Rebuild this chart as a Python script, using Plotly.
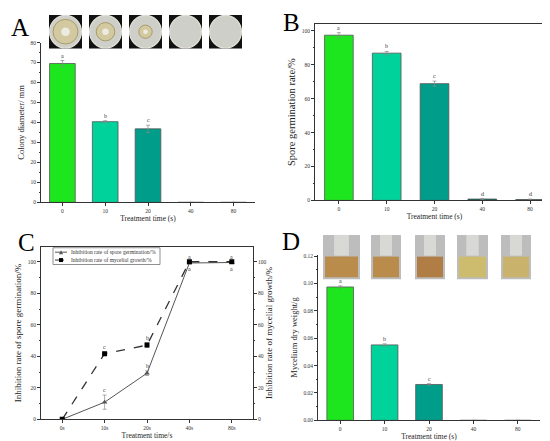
import plotly.graph_objects as go

# ---- data ----
times = ["0", "10", "20", "40", "80"]
times_s = ["0s", "10s", "20s", "40s", "80s"]

colony_diameter = [69.5, 40.4, 36.8, 0, 0]
colony_err = [1.5, 0.5, 1.8, 0, 0]
colony_letters = ["a", "b", "c", "", ""]

spore_germ = [97.5, 86.9, 68.9, 0.8, 0.5]
spore_err = [1.5, 1.0, 1.5, 0.3, 0.3]
spore_letters = ["a", "b", "c", "d", "d"]

inhib_spore = [0, 10.9, 29.3, 99.2, 99.5]
inhib_spore_err = [0, 4.5, 1.5, 0.3, 0.3]
inhib_spore_letters = ["", "c", "b", "a", "a"]
inhib_myc = [0, 41.7, 47.1, 100, 100]
inhib_myc_err = [0, 1.0, 1.5, 0, 0]
inhib_myc_letters = ["", "c", "b", "a", "a"]

dry_weight = [0.0974, 0.0551, 0.0262, 0, 0]
dry_err = [0.0008, 0.0008, 0.0006, 0, 0]
dry_letters = ["a", "b", "c", "", ""]

legend_names = ["Inhibition rate of spore germination/%", "Inhibition rate of mycelial growth/%"]

bar_colors = ["#1ee61e", "#00d29b", "#009e8a", "#006b5f", "#00544a"]
FONT = "Liberation Serif"
W, H = 550, 441


def px(x0, y0, x1, y1):
    return dict(x0=x0 / W, x1=x1 / W, y0=1 - y1 / H, y1=1 - y0 / H)


fig = go.Figure()

err_style = dict(type="data", color="#8a8a8a", thickness=0.7, width=2)
bar_line = dict(color="#555555", width=0.8)

fig.add_trace(go.Bar(x=times, y=colony_diameter, marker=dict(color=bar_colors, line=bar_line),
                     error_y=dict(array=colony_err, **err_style), width=0.6,
                     xaxis="x", yaxis="y"))
fig.add_trace(go.Bar(x=times, y=spore_germ, marker=dict(color=bar_colors, line=bar_line),
                     error_y=dict(array=spore_err, **err_style), width=0.6,
                     xaxis="x2", yaxis="y2"))
fig.add_trace(go.Scatter(x=times_s, y=inhib_spore, mode="lines+markers", name=legend_names[0],
                         line=dict(color="#555555", width=1),
                         marker=dict(symbol="triangle-up", size=5, color="#555555"),
                         error_y=dict(array=inhib_spore_err, **err_style),
                         xaxis="x3", yaxis="y3"))
fig.add_trace(go.Scatter(x=times_s, y=inhib_myc, mode="lines+markers", name=legend_names[1],
                         line=dict(color="#333333", width=1.3, dash="dash"),
                         marker=dict(symbol="square", size=5, color="black"),
                         error_y=dict(array=inhib_myc_err, **err_style),
                         xaxis="x3", yaxis="y5"))
fig.add_trace(go.Bar(x=times, y=dry_weight, marker=dict(color=bar_colors, line=bar_line),
                     error_y=dict(array=dry_err, **err_style), width=0.6,
                     xaxis="x4", yaxis="y4"))

tick_font = dict(family=FONT, size=5.5, color="#333333")
ax_common = dict(showline=True, linecolor="#333333", linewidth=0.8, ticks="outside",
                 ticklen=3, tickwidth=0.7, tickcolor="#333333", tickfont=tick_font,
                 showgrid=False, zeroline=False)
cat_ax = dict(ax_common, type="category", range=[-0.5, 4.5])
minor = dict(ticks="outside", ticklen=1.5, tickcolor="#333")


def ytitle(text, size, standoff=4):
    return dict(text=text, font=dict(family=FONT, size=size, color="#222"), standoff=standoff)


def xtitle(text, standoff=2):
    return dict(text=text, font=dict(family=FONT, size=7.5, color="#222"), standoff=standoff)


fig.update_layout(
    width=W, height=H, margin=dict(l=0, r=0, t=0, b=0), showlegend=False,
    paper_bgcolor="white", plot_bgcolor="white",
    xaxis=dict(cat_ax, domain=[33 / W, 247 / W], anchor="y", title=xtitle("Treatment time (s)")),
    yaxis=dict(ax_common, domain=[1 - 194 / H, 1 - 32 / H], anchor="x", range=[0, 80], dtick=10,
               minor=dict(minor, dtick=5), title=ytitle("Colony diameter/ mm", 8.5)),
    xaxis2=dict(cat_ax, domain=[307 / W, 546 / W], anchor="y2", mirror=True,
                title=xtitle("Treatment time (s)")),
    yaxis2=dict(ax_common, domain=[1 - 192 / H, 1 - 13 / H], anchor="x2", range=[0, 104.2], dtick=20,
                mirror=True, minor=dict(minor, dtick=10), title=ytitle("Spore germination rate/%", 10.5)),
    xaxis3=dict(cat_ax, domain=[33 / W, 245 / W], anchor="y3", mirror=True,
                title=xtitle("Treatment time/s", 0)),
    yaxis3=dict(ax_common, domain=[1 - 414 / H, 1 - 239 / H], anchor="x3", range=[0, 109.5], dtick=20,
                mirror=True, minor=dict(minor, dtick=10),
                title=ytitle("Inhibition rate of spore germination/%", 9)),
    yaxis5=dict(ax_common, overlaying="y3", side="right", anchor="x3", range=[0, 109.5], dtick=20,
                minor=dict(minor, dtick=10),
                title=ytitle("Inhibition rate of mycelial growth/%", 9, 0)),
    xaxis4=dict(cat_ax, domain=[310 / W, 532 / W], anchor="y4", title=xtitle("Treatment time (s)", 0)),
    yaxis4=dict(ax_common, domain=[1 - 415 / H, 1 - 247 / H], anchor="x4", range=[0, 0.121], dtick=0.02,
                tickformat=".2f", minor=dict(minor, dtick=0.01),
                title=ytitle("Mycelium dry weight/g", 8.5)),
)

# significance letters
ann = []
letter_font = dict(family=FONT, size=6, color="#333")


def add_letters(vals, errs, letters, xref, yref, below=None):
    for i, (v, e, t) in enumerate(zip(vals, errs, letters)):
        if not t:
            continue
        if below and below[i]:
            ann.append(dict(x=i, y=v - e, xref=xref, yref=yref, text=t, showarrow=False,
                            yanchor="top", font=letter_font, yshift=-1))
        else:
            ann.append(dict(x=i, y=v + e, xref=xref, yref=yref, text=t, showarrow=False,
                            yanchor="bottom", font=letter_font))


add_letters(colony_diameter, colony_err, colony_letters, "x", "y")
add_letters(spore_germ, spore_err, spore_letters, "x2", "y2")
add_letters(inhib_spore, inhib_spore_err, inhib_spore_letters, "x3", "y3",
            below=[False, False, False, True, True])
add_letters(inhib_myc, inhib_myc_err, inhib_myc_letters, "x3", "y5")
add_letters(dry_weight, dry_err, dry_letters, "x4", "y4")

# panel labels
for lab, x, y in [("A", 12, 17), ("B", 283, 12), ("C", 18, 235), ("D", 283, 234)]:
    ann.append(dict(x=x / W, y=1 - y / H, xref="paper", yref="paper", text=lab, showarrow=False,
                    font=dict(family=FONT, size=25, color="black"), xanchor="center", yanchor="middle"))

shapes = []

# compact legend for panel C
shapes.append(dict(type="rect", xref="paper", yref="paper", fillcolor="white",
                   line=dict(color="#444", width=0.6), **px(45, 240, 152, 257)))
for k, (yy, dash, col) in enumerate([(244.5, "solid", "#555555"), (252.5, "dash", "#333333")]):
    shapes.append(dict(type="line", xref="paper", yref="paper", line=dict(color=col, width=1, dash=dash),
                       **px(47, yy, 59, yy)))
    ann.append(dict(x=61 / W, y=1 - yy / H, xref="paper", yref="paper", text=legend_names[k],
                    showarrow=False, xanchor="left", yanchor="middle",
                    font=dict(family=FONT, size=5.5, color="#333")))
shapes.append(dict(type="path", xref="paper", yref="paper", fillcolor="#555555", line=dict(width=0),
                   path="M {} {} L {} {} L {} {} Z".format(51 / W, 1 - 246.5 / H, 55 / W, 1 - 246.5 / H,
                                                          53 / W, 1 - 242.5 / H)))
shapes.append(dict(type="rect", xref="paper", yref="paper", fillcolor="black", line=dict(width=0),
                   **px(51, 250.5, 55, 254.5)))

# photo placeholders (petri dishes for A, flasks for D)
dish_colony = [0.78, 0.58, 0.42, 0, 0]
for i, left in enumerate([41, 81, 121, 161, 201]):
    shapes.append(dict(type="rect", xref="paper", yref="paper", fillcolor="#111111",
                       line=dict(width=0), **px(left, 4, left + 33, 38)))
    shapes.append(dict(type="circle", xref="paper", yref="paper", fillcolor="#cfcfca",
                       line=dict(color="#e2e0d6", width=1.2), **px(left + 0.5, 4.5, left + 32.5, 37.5)))
    r = dish_colony[i] * 16
    if r:
        cx, cy = left + 16.5, 21
        shapes.append(dict(type="circle", xref="paper", yref="paper", fillcolor="#d3c9a0",
                           line=dict(color="#a89c68", width=1), **px(cx - r, cy - r, cx + r, cy + r)))
        shapes.append(dict(type="circle", xref="paper", yref="paper", fillcolor="#ecebe2",
                           line=dict(width=0), **px(cx - r * 0.35, cy - r * 0.35, cx + r * 0.35, cy + r * 0.35)))
flask_liquid = ["#b98c4c", "#b98c4c", "#b07e44", "#cdbb6e", "#c9b36c"]
for i, (l, r) in enumerate([(315, 352), (363, 393), (407, 437), (449, 480), (493, 523)]):
    shapes.append(dict(type="rect", xref="paper", yref="paper", fillcolor="#bdbdbd",
                       line=dict(width=0), **px(l, 227, r, 272)))
    shapes.append(dict(type="rect", xref="paper", yref="paper", fillcolor="#d8d8d4",
                       line=dict(width=0), **px(l + (r - l) * 0.3, 227, r - (r - l) * 0.3, 248)))
    shapes.append(dict(type="rect", xref="paper", yref="paper", fillcolor=flask_liquid[i],
                       line=dict(width=0), **px(l + 2, 249, r - 2, 270)))

fig.update_layout(annotations=ann, shapes=shapes)

fig.write_html("out.html")
